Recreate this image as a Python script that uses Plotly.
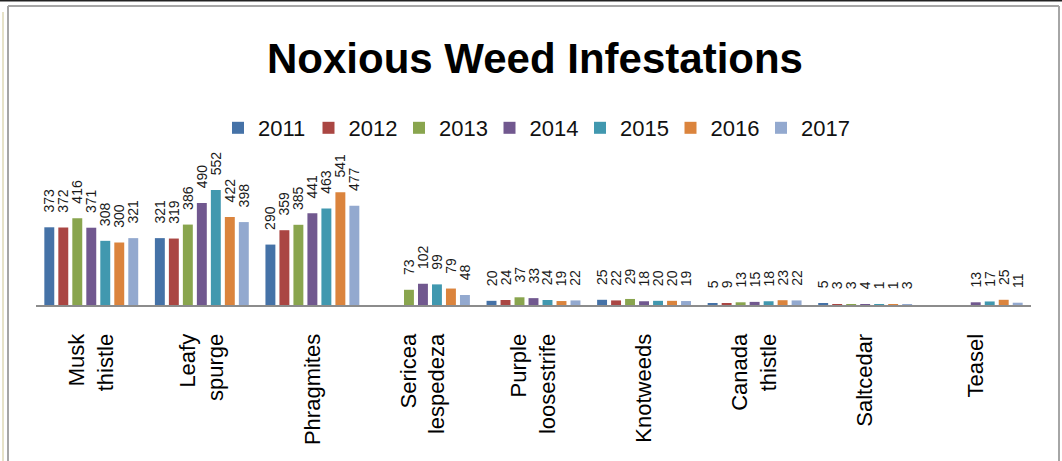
import plotly.graph_objects as go

categories = ["Musk<br>thistle", "Leafy<br>spurge", "Phragmites", "Sericea<br>lespedeza",
              "Purple<br>loosestrife", "Knotweeds", "Canada<br>thistle", "Saltcedar", "Teasel"]
years = ["2011", "2012", "2013", "2014", "2015", "2016", "2017"]

v2011 = [373, 321, 290, None, 20, 25, 5, 5, None]
v2012 = [372, 319, 359, None, 24, 22, 9, 3, None]
v2013 = [416, 386, 385, 73, 37, 29, 13, 3, None]
v2014 = [371, 490, 441, 102, 33, 18, 15, 4, 13]
v2015 = [308, 552, 463, 99, 24, 20, 18, 1, 17]
v2016 = [300, 422, 541, 79, 19, 20, 23, 1, 25]
v2017 = [321, 398, 477, 48, 22, 19, 22, 3, 11]
series = [v2011, v2012, v2013, v2014, v2015, v2016, v2017]

colors = ["#4572A7", "#AA4643", "#89A54E", "#71588F", "#4198AF", "#DB843D", "#93A9CF"]

fig = go.Figure()
pad = "\u00a0\u00a0\u00a0"
for i, (name, vals, col) in enumerate(zip(years, series, colors)):
    fig.add_trace(go.Bar(
        x=categories, y=vals, name=name,
        marker=dict(color=col, line=dict(width=0)),
        text=[(pad + str(v)) if v is not None else None for v in vals],
        textposition="outside", textangle=-90, constraintext="none",
        textfont=dict(family="Liberation Sans, Arial, sans-serif", size=14, color="#1a1a1a"),
        cliponaxis=False, hoverinfo="x+y+name",
        legendwidth=(60 if i == len(years) - 1 else None),
    ))

# decorative chart-area border lines (paper coords relative to plot area)
L, T, B = 36, 180, 305
W, H = 995, 125
def px(x):
    return (x - L) / W
def py(y):
    return (B - y) / H

shapes = [
    dict(type="line", xref="paper", yref="paper", x0=px(8), x1=px(8), y0=py(6), y1=py(470),
         line=dict(color="#A6A6A6", width=2)),
    dict(type="line", xref="paper", yref="paper", x0=px(1059), x1=px(1059), y0=py(6), y1=py(470),
         line=dict(color="#A6A6A6", width=2)),
    dict(type="line", xref="paper", yref="paper", x0=px(8), x1=px(1059), y0=py(6), y1=py(6),
         line=dict(color="#A6A6A6", width=2)),
    dict(type="line", xref="paper", yref="paper", x0=px(-5), x1=px(1070), y0=py(0.5), y1=py(0.5),
         line=dict(color="#222222", width=2)),
    dict(type="line", xref="paper", yref="paper", x0=px(3), x1=px(3), y0=py(12), y1=py(470),
         line=dict(color="#E6E2C8", width=2)),
]

fig.update_layout(
    width=1062, height=461,
    margin=dict(l=L, r=1062 - L - W, t=T, b=461 - B),
    paper_bgcolor="white", plot_bgcolor="white",
    barmode="group", bargap=0.114, bargroupgap=0.29,
    title=dict(text="<b>Noxious Weed Infestations</b>", xref="container", yref="container",
               x=535 / 1062, y=1 - 58 / 461, xanchor="center", yanchor="middle",
               font=dict(family="Liberation Sans, Arial, sans-serif", size=42, color="black")),
    legend=dict(orientation="h", xref="container", yref="container",
                x=218 / 1062, y=1 - 128 / 461, xanchor="left", yanchor="middle",
                entrywidth=45.5, font=dict(family="Liberation Sans, Arial, sans-serif", size=22, color="#111111"),
                bgcolor="rgba(0,0,0,0)", tracegroupgap=0),
    xaxis=dict(showline=True, linecolor="#8C8C8C", linewidth=2, showgrid=False, ticks="",
               tickangle=-90, ticklabelstandoff=18,
               tickfont=dict(family="Liberation Sans, Arial, sans-serif", size=22, color="black")),
    yaxis=dict(range=[0, 600], visible=False, showgrid=False, zeroline=False),
    shapes=shapes,
    showlegend=True,
)

fig.write_html("out.html")
